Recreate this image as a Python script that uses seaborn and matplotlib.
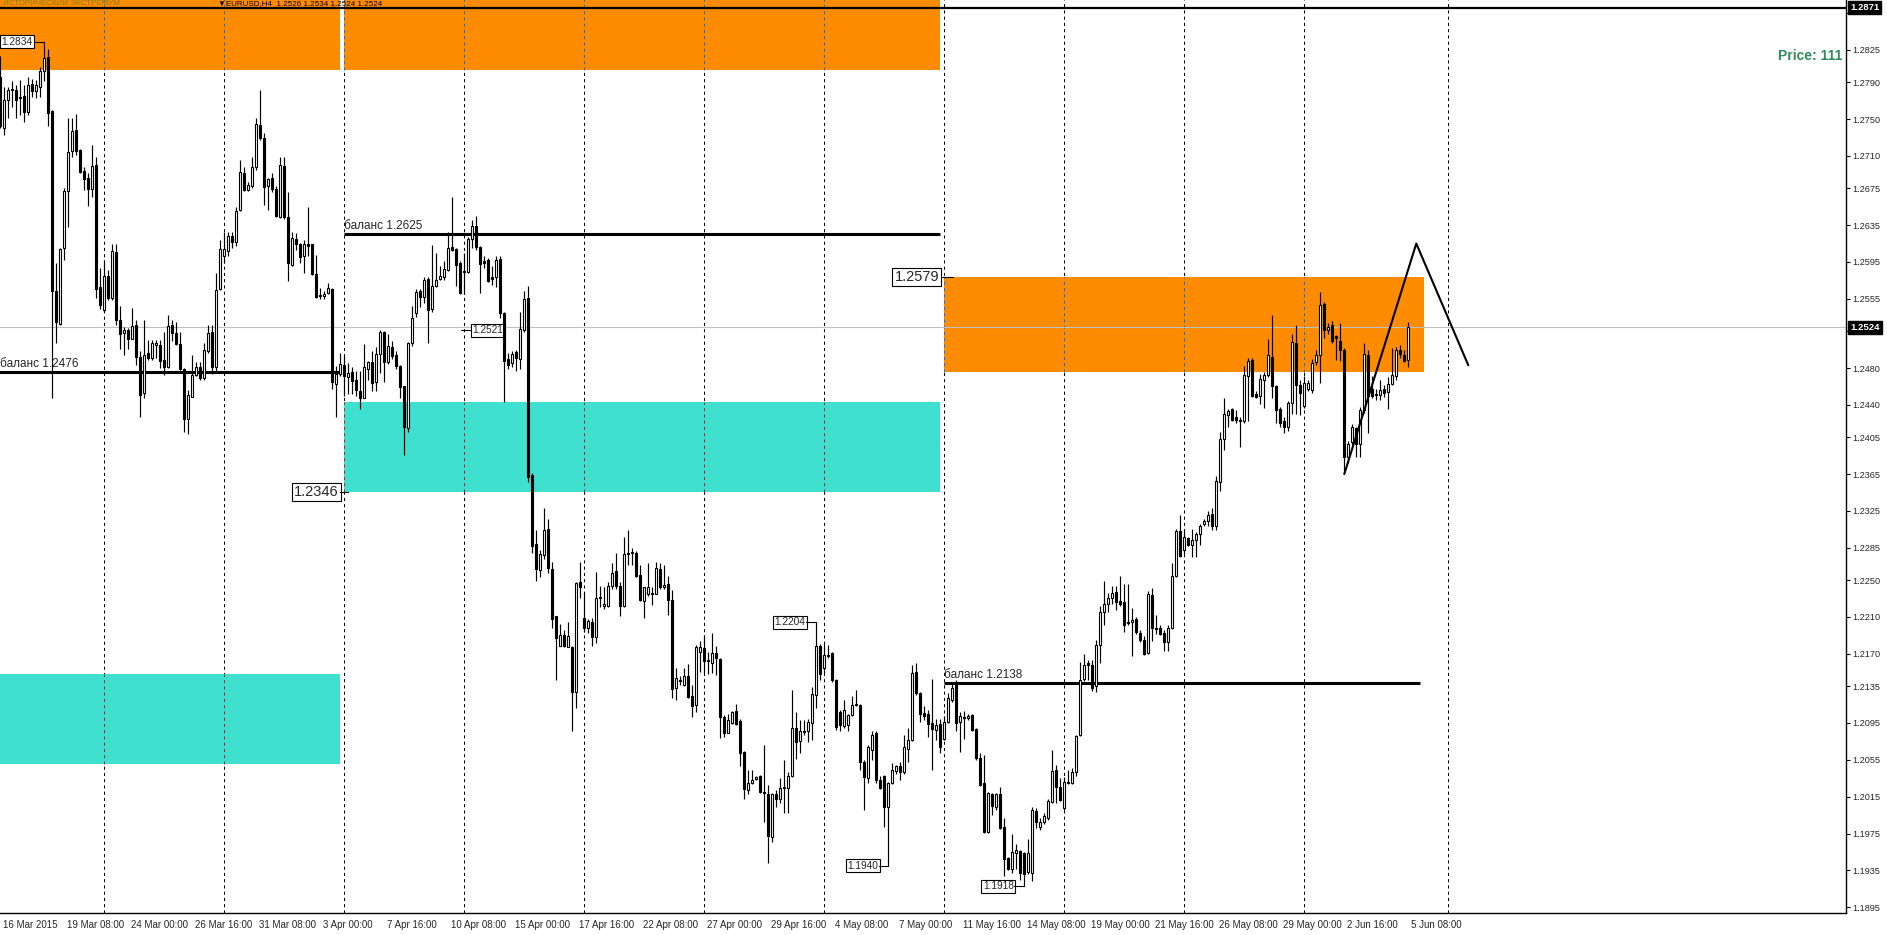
import matplotlib
matplotlib.use("Agg")
import matplotlib.pyplot as plt
import matplotlib.transforms as mtransforms
from matplotlib.patches import Rectangle
import seaborn as sns
import numpy as np

sns.set_style("white")
plt.rcParams['font.family'] = ['Liberation Sans', 'DejaVu Sans']

# EURUSD H4, one value per bar (bar 0 = 16 Mar 2015 16:00)
opens = [1.2796, 1.2740, 1.2771, 1.2782, 1.2782, 1.2774, 1.2775, 1.2758, 1.2788, 1.2780,
         1.2785, 1.2802, 1.2817, 1.2759, 1.2563, 1.2528, 1.2610, 1.2672, 1.2715, 1.2738,
         1.2717, 1.2694, 1.2686, 1.2674, 1.2700, 1.2568, 1.2543, 1.2580, 1.2556, 1.2606,
         1.2532, 1.2518, 1.2521, 1.2512, 1.2527, 1.2492, 1.2453, 1.2496, 1.2491, 1.2505,
         1.2505, 1.2489, 1.2481, 1.2527, 1.2518, 1.2506, 1.2479, 1.2425, 1.2449, 1.2472,
         1.2481, 1.2469, 1.2498, 1.2519, 1.2481, 1.2566, 1.2601, 1.2607, 1.2623, 1.2617,
         1.2651, 1.2691, 1.2673, 1.2677, 1.2698, 1.2744, 1.2730, 1.2677, 1.2686, 1.2674,
         1.2644, 1.2699, 1.2644, 1.2592, 1.2620, 1.2615, 1.2601, 1.2614, 1.2614, 1.2582,
         1.2559, 1.2558, 1.2561, 1.2566, 1.2463, 1.2474, 1.2483, 1.2470, 1.2476, 1.2467,
         1.2455, 1.2448, 1.2479, 1.2486, 1.2465, 1.2495, 1.2519, 1.2487, 1.2503, 1.2494,
         1.2482, 1.2460, 1.2415, 1.2507, 1.2540, 1.2563, 1.2557, 1.2577, 1.2544, 1.2569,
         1.2577, 1.2579, 1.2586, 1.2611, 1.2609, 1.2594, 1.2585, 1.2584, 1.2620, 1.2634,
         1.2611, 1.2596, 1.2597, 1.2579, 1.2579, 1.2598, 1.2540, 1.2490, 1.2485, 1.2497,
         1.2490, 1.2521, 1.2556, 1.2364, 1.2289, 1.2261, 1.2277, 1.2305, 1.2262, 1.2211,
         1.2178, 1.2190, 1.2177, 1.2177, 1.2128, 1.2248, 1.2209, 1.2198, 1.2204, 1.2188,
         1.2230, 1.2222, 1.2222, 1.2243, 1.2260, 1.2243, 1.2222, 1.2278, 1.2279, 1.2279,
         1.2255, 1.2227, 1.2235, 1.2236, 1.2235, 1.2262, 1.2242, 1.2246, 1.2228, 1.2133,
         1.2142, 1.2136, 1.2146, 1.2124, 1.2114, 1.2172, 1.2176, 1.2162, 1.2160, 1.2171,
         1.2164, 1.2101, 1.2084, 1.2095, 1.2108, 1.2097, 1.2063, 1.2022, 1.2030, 1.2034,
         1.2037, 1.2020, 1.2018, 1.1971, 1.2018, 1.2012, 1.2024, 1.2024, 1.2037, 1.2090,
         1.2075, 1.2085, 1.2086, 1.2095, 1.2125, 1.2178, 1.2155, 1.2168, 1.2171, 1.2142,
         1.2107, 1.2092, 1.2093, 1.2104, 1.2114, 1.2114, 1.2053, 1.2035, 1.2066, 1.2084,
         1.2033, 1.2037, 1.2004, 1.2030, 1.2043, 1.2048, 1.2042, 1.2067, 1.2076, 1.2150,
         1.2127, 1.2106, 1.2105, 1.2095, 1.2087, 1.2094, 1.2078, 1.2096, 1.2120, 1.2136,
         1.2096, 1.2101, 1.2100, 1.2104, 1.2088, 1.2057, 1.2030, 1.1977, 1.2018, 1.2004,
         1.2018, 1.1982, 1.1948, 1.1936, 1.1954, 1.1956, 1.1954, 1.1933, 1.1932, 1.1999,
         1.1982, 1.1988, 1.1992, 1.2009, 1.2044, 1.2026, 1.2003, 1.2031, 1.2030, 1.2042,
         1.2082, 1.2143, 1.2160, 1.2158, 1.2135, 1.2180, 1.2215, 1.2224, 1.2230, 1.2237,
         1.2227, 1.2226, 1.2204, 1.2204, 1.2208, 1.2193, 1.2185, 1.2171, 1.2234, 1.2198,
         1.2198, 1.2193, 1.2183, 1.2198, 1.2254, 1.2303, 1.2283, 1.2296, 1.2288, 1.2293,
         1.2300, 1.2311, 1.2314, 1.2322, 1.2309, 1.2356, 1.2403, 1.2429, 1.2435, 1.2427,
         1.2424, 1.2422, 1.2471, 1.2489, 1.2452, 1.2450, 1.2467, 1.2472, 1.2492, 1.2461,
         1.2435, 1.2423, 1.2416, 1.2442, 1.2507, 1.2462, 1.2439, 1.2457, 1.2456, 1.2486,
         1.2494, 1.2549, 1.2521, 1.2527, 1.2515, 1.2509, 1.2500, 1.2383, 1.2400, 1.2415,
         1.2398, 1.2434, 1.2494, 1.2457, 1.2452, 1.2451, 1.2457, 1.2454, 1.2463, 1.2471,
         1.2500, 1.2494, 1.2489]
highs = [1.2818, 1.2785, 1.2785, 1.2791, 1.2787, 1.2792, 1.2787, 1.2796, 1.2794, 1.2792,
         1.2807, 1.2834, 1.2826, 1.2760, 1.2594, 1.2610, 1.2675, 1.2751, 1.2751, 1.2756,
         1.2718, 1.2698, 1.2691, 1.2722, 1.2709, 1.2588, 1.2597, 1.2586, 1.2614, 1.2614,
         1.2547, 1.2525, 1.2523, 1.2545, 1.2532, 1.2498, 1.2532, 1.2510, 1.2510, 1.2510,
         1.2510, 1.2519, 1.2538, 1.2532, 1.2530, 1.2519, 1.2480, 1.2456, 1.2494, 1.2487,
         1.2487, 1.2507, 1.2527, 1.2527, 1.2583, 1.2619, 1.2628, 1.2628, 1.2628, 1.2655,
         1.2706, 1.2698, 1.2682, 1.2709, 1.2751, 1.2782, 1.2735, 1.2686, 1.2691, 1.2677,
         1.2709, 1.2709, 1.2671, 1.2628, 1.2626, 1.2616, 1.2619, 1.2655, 1.2615, 1.2603,
         1.2567, 1.2563, 1.2572, 1.2567, 1.2482, 1.2496, 1.2494, 1.2485, 1.2481, 1.2477,
         1.2477, 1.2506, 1.2488, 1.2498, 1.2503, 1.2521, 1.2520, 1.2517, 1.2509, 1.2498,
         1.2483, 1.2461, 1.2508, 1.2547, 1.2566, 1.2566, 1.2579, 1.2579, 1.2613, 1.2605,
         1.2591, 1.2596, 1.2627, 1.2665, 1.2610, 1.2596, 1.2605, 1.2622, 1.2641, 1.2645,
         1.2612, 1.2602, 1.2599, 1.2591, 1.2601, 1.2602, 1.2541, 1.2496, 1.2498, 1.2499,
         1.2541, 1.2564, 1.2569, 1.2366, 1.2304, 1.2283, 1.2328, 1.2316, 1.2270, 1.2211,
         1.2202, 1.2196, 1.2204, 1.2178, 1.2248, 1.2270, 1.2237, 1.2208, 1.2209, 1.2259,
         1.2243, 1.2242, 1.2248, 1.2268, 1.2279, 1.2248, 1.2297, 1.2304, 1.2285, 1.2281,
         1.2266, 1.2242, 1.2269, 1.2242, 1.2270, 1.2268, 1.2266, 1.2254, 1.2239, 1.2155,
         1.2146, 1.2155, 1.2159, 1.2136, 1.2180, 1.2184, 1.2190, 1.2172, 1.2192, 1.2178,
         1.2165, 1.2104, 1.2105, 1.2108, 1.2116, 1.2099, 1.2064, 1.2044, 1.2044, 1.2037,
         1.2039, 1.2071, 1.2028, 1.2019, 1.2022, 1.2035, 1.2055, 1.2042, 1.2131, 1.2107,
         1.2098, 1.2098, 1.2099, 1.2134, 1.2204, 1.2181, 1.2181, 1.2180, 1.2172, 1.2143,
         1.2109, 1.2120, 1.2105, 1.2124, 1.2131, 1.2116, 1.2055, 1.2071, 1.2086, 1.2086,
         1.2037, 1.2038, 1.2031, 1.2051, 1.2049, 1.2053, 1.2082, 1.2089, 1.2158, 1.2160,
         1.2129, 1.2113, 1.2109, 1.2143, 1.2099, 1.2099, 1.2102, 1.2127, 1.2138, 1.2142,
         1.2107, 1.2108, 1.2105, 1.2105, 1.2089, 1.2062, 1.2060, 1.2020, 1.2019, 1.2019,
         1.2026, 1.1992, 1.1950, 1.1975, 1.1964, 1.1957, 1.1955, 1.1969, 1.2004, 1.2003,
         1.1992, 1.1997, 1.2012, 1.2066, 1.2049, 1.2035, 1.2036, 1.2044, 1.2046, 1.2082,
         1.2161, 1.2170, 1.2163, 1.2163, 1.2185, 1.2222, 1.2249, 1.2236, 1.2243, 1.2243,
         1.2254, 1.2246, 1.2246, 1.2220, 1.2210, 1.2196, 1.2189, 1.2238, 1.2241, 1.2212,
         1.2201, 1.2196, 1.2201, 1.2269, 1.2305, 1.2321, 1.2305, 1.2297, 1.2305, 1.2302,
         1.2311, 1.2316, 1.2325, 1.2328, 1.2363, 1.2411, 1.2447, 1.2436, 1.2437, 1.2434,
         1.2427, 1.2482, 1.2491, 1.2491, 1.2455, 1.2474, 1.2476, 1.2511, 1.2537, 1.2462,
         1.2438, 1.2427, 1.2444, 1.2517, 1.2527, 1.2467, 1.2471, 1.2467, 1.2490, 1.2500,
         1.2562, 1.2552, 1.2529, 1.2531, 1.2516, 1.2529, 1.2502, 1.2401, 1.2419, 1.2416,
         1.2438, 1.2507, 1.2500, 1.2471, 1.2457, 1.2467, 1.2462, 1.2470, 1.2502, 1.2503,
         1.2505, 1.2500, 1.2530]
lows = [1.2740, 1.2733, 1.2751, 1.2763, 1.2751, 1.2754, 1.2747, 1.2754, 1.2774, 1.2773,
        1.2774, 1.2791, 1.2742, 1.2448, 1.2507, 1.2527, 1.2597, 1.2633, 1.2709, 1.2711,
        1.2691, 1.2673, 1.2656, 1.2666, 1.2556, 1.2544, 1.2541, 1.2554, 1.2554, 1.2527,
        1.2501, 1.2494, 1.2501, 1.2511, 1.2483, 1.2427, 1.2447, 1.2489, 1.2489, 1.2491,
        1.2480, 1.2472, 1.2480, 1.2509, 1.2505, 1.2478, 1.2411, 1.2408, 1.2449, 1.2471,
        1.2467, 1.2467, 1.2496, 1.2474, 1.2476, 1.2565, 1.2594, 1.2601, 1.2610, 1.2612,
        1.2650, 1.2672, 1.2672, 1.2675, 1.2695, 1.2727, 1.2657, 1.2651, 1.2671, 1.2644,
        1.2643, 1.2642, 1.2574, 1.2591, 1.2608, 1.2594, 1.2583, 1.2601, 1.2581, 1.2556,
        1.2555, 1.2555, 1.2560, 1.2457, 1.2427, 1.2471, 1.2450, 1.2452, 1.2452, 1.2450,
        1.2436, 1.2447, 1.2467, 1.2455, 1.2455, 1.2475, 1.2465, 1.2484, 1.2490, 1.2479,
        1.2448, 1.2386, 1.2411, 1.2504, 1.2535, 1.2546, 1.2550, 1.2507, 1.2541, 1.2568,
        1.2575, 1.2576, 1.2585, 1.2607, 1.2569, 1.2560, 1.2560, 1.2583, 1.2610, 1.2608,
        1.2561, 1.2589, 1.2573, 1.2570, 1.2568, 1.2534, 1.2443, 1.2479, 1.2481, 1.2477,
        1.2479, 1.2519, 1.2356, 1.2279, 1.2249, 1.2253, 1.2273, 1.2258, 1.2198, 1.2142,
        1.2178, 1.2177, 1.2177, 1.2086, 1.2111, 1.2231, 1.2194, 1.2192, 1.2178, 1.2182,
        1.2221, 1.2219, 1.2221, 1.2240, 1.2240, 1.2211, 1.2221, 1.2266, 1.2266, 1.2253,
        1.2227, 1.2209, 1.2233, 1.2223, 1.2235, 1.2240, 1.2240, 1.2212, 1.2122, 1.2120,
        1.2136, 1.2135, 1.2122, 1.2101, 1.2107, 1.2150, 1.2149, 1.2148, 1.2149, 1.2147,
        1.2079, 1.2080, 1.2084, 1.2094, 1.2093, 1.2048, 1.2013, 1.2018, 1.2029, 1.2033,
        1.2019, 1.1988, 1.1943, 1.1966, 1.2004, 1.2008, 1.1997, 1.1997, 1.2036, 1.2056,
        1.2062, 1.2082, 1.2074, 1.2077, 1.2111, 1.2142, 1.2149, 1.2165, 1.2139, 1.2087,
        1.2086, 1.2090, 1.2086, 1.2102, 1.2113, 1.2044, 1.2001, 1.2030, 1.2055, 1.2030,
        1.2023, 1.1982, 1.1940, 1.2029, 1.2040, 1.2033, 1.2040, 1.2053, 1.2075, 1.2125,
        1.2096, 1.2098, 1.2080, 1.2044, 1.2077, 1.2062, 1.2077, 1.2095, 1.2118, 1.2086,
        1.2063, 1.2078, 1.2098, 1.2086, 1.2055, 1.2027, 1.1976, 1.1976, 1.1995, 1.2001,
        1.1980, 1.1929, 1.1935, 1.1932, 1.1937, 1.1925, 1.1918, 1.1931, 1.1924, 1.1981,
        1.1979, 1.1985, 1.1990, 1.2008, 1.2008, 1.2010, 1.2001, 1.2029, 1.2029, 1.2037,
        1.2081, 1.2140, 1.2142, 1.2130, 1.2128, 1.2160, 1.2201, 1.2215, 1.2224, 1.2217,
        1.2222, 1.2194, 1.2201, 1.2168, 1.2191, 1.2183, 1.2169, 1.2170, 1.2184, 1.2191,
        1.2190, 1.2173, 1.2173, 1.2197, 1.2253, 1.2275, 1.2278, 1.2287, 1.2275, 1.2275,
        1.2288, 1.2309, 1.2309, 1.2304, 1.2304, 1.2347, 1.2391, 1.2416, 1.2422, 1.2420,
        1.2394, 1.2420, 1.2423, 1.2449, 1.2447, 1.2441, 1.2437, 1.2470, 1.2448, 1.2420,
        1.2416, 1.2410, 1.2412, 1.2430, 1.2430, 1.2429, 1.2437, 1.2455, 1.2453, 1.2483,
        1.2464, 1.2513, 1.2517, 1.2507, 1.2489, 1.2488, 1.2365, 1.2377, 1.2396, 1.2384,
        1.2384, 1.2431, 1.2410, 1.2448, 1.2445, 1.2445, 1.2449, 1.2435, 1.2462, 1.2467,
        1.2491, 1.2486, 1.2481]
closes = [1.2742, 1.2771, 1.2782, 1.2783, 1.2771, 1.2773, 1.2758, 1.2787, 1.2781, 1.2787,
          1.2802, 1.2816, 1.2757, 1.2564, 1.2530, 1.2609, 1.2672, 1.2714, 1.2737, 1.2715,
          1.2693, 1.2685, 1.2674, 1.2699, 1.2566, 1.2548, 1.2580, 1.2556, 1.2607, 1.2532,
          1.2517, 1.2521, 1.2511, 1.2526, 1.2492, 1.2451, 1.2494, 1.2491, 1.2507, 1.2507,
          1.2488, 1.2481, 1.2526, 1.2518, 1.2506, 1.2479, 1.2425, 1.2451, 1.2472, 1.2481,
          1.2469, 1.2499, 1.2518, 1.2481, 1.2565, 1.2609, 1.2609, 1.2623, 1.2617, 1.2650,
          1.2693, 1.2673, 1.2679, 1.2698, 1.2745, 1.2729, 1.2676, 1.2685, 1.2674, 1.2645,
          1.2700, 1.2644, 1.2594, 1.2621, 1.2614, 1.2600, 1.2614, 1.2612, 1.2582, 1.2557,
          1.2558, 1.2560, 1.2567, 1.2465, 1.2474, 1.2484, 1.2471, 1.2475, 1.2466, 1.2456,
          1.2448, 1.2481, 1.2486, 1.2464, 1.2495, 1.2519, 1.2486, 1.2504, 1.2493, 1.2482,
          1.2459, 1.2416, 1.2507, 1.2534, 1.2562, 1.2557, 1.2576, 1.2543, 1.2569, 1.2576,
          1.2580, 1.2587, 1.2610, 1.2608, 1.2592, 1.2561, 1.2584, 1.2620, 1.2634, 1.2611,
          1.2593, 1.2594, 1.2574, 1.2577, 1.2597, 1.2540, 1.2488, 1.2483, 1.2495, 1.2491,
          1.2522, 1.2555, 1.2362, 1.2287, 1.2262, 1.2278, 1.2304, 1.2263, 1.2208, 1.2187,
          1.2190, 1.2178, 1.2189, 1.2129, 1.2247, 1.2242, 1.2198, 1.2206, 1.2188, 1.2231,
          1.2232, 1.2224, 1.2243, 1.2258, 1.2243, 1.2222, 1.2278, 1.2279, 1.2280, 1.2254,
          1.2228, 1.2242, 1.2242, 1.2235, 1.2263, 1.2242, 1.2245, 1.2228, 1.2132, 1.2144,
          1.2141, 1.2146, 1.2123, 1.2113, 1.2177, 1.2177, 1.2162, 1.2163, 1.2171, 1.2165,
          1.2101, 1.2084, 1.2098, 1.2107, 1.2094, 1.2062, 1.2023, 1.2030, 1.2033, 1.2036,
          1.2020, 1.2019, 1.1972, 1.2018, 1.2012, 1.2024, 1.2026, 1.2037, 1.2089, 1.2074,
          1.2086, 1.2086, 1.2096, 1.2126, 1.2178, 1.2148, 1.2169, 1.2169, 1.2142, 1.2091,
          1.2093, 1.2109, 1.2104, 1.2114, 1.2116, 1.2053, 1.2036, 1.2069, 1.2082, 1.2033,
          1.2024, 1.2004, 1.2030, 1.2044, 1.2048, 1.2042, 1.2069, 1.2076, 1.2149, 1.2127,
          1.2105, 1.2103, 1.2094, 1.2088, 1.2093, 1.2069, 1.2096, 1.2122, 1.2133, 1.2095,
          1.2102, 1.2100, 1.2103, 1.2087, 1.2057, 1.2028, 1.1977, 1.2019, 1.2005, 1.2018,
          1.1981, 1.1947, 1.1937, 1.1955, 1.1957, 1.1932, 1.1931, 1.1954, 1.2001, 1.1988,
          1.1988, 1.1994, 1.2010, 1.2043, 1.2026, 1.2011, 1.2031, 1.2030, 1.2042, 1.2081,
          1.2142, 1.2158, 1.2158, 1.2133, 1.2180, 1.2215, 1.2224, 1.2230, 1.2236, 1.2226,
          1.2224, 1.2201, 1.2203, 1.2207, 1.2194, 1.2185, 1.2170, 1.2235, 1.2198, 1.2197,
          1.2191, 1.2183, 1.2198, 1.2254, 1.2303, 1.2276, 1.2297, 1.2288, 1.2293, 1.2300,
          1.2309, 1.2314, 1.2321, 1.2309, 1.2357, 1.2403, 1.2430, 1.2433, 1.2424, 1.2424,
          1.2422, 1.2472, 1.2488, 1.2450, 1.2449, 1.2468, 1.2472, 1.2494, 1.2460, 1.2434,
          1.2420, 1.2416, 1.2442, 1.2508, 1.2462, 1.2453, 1.2464, 1.2464, 1.2485, 1.2494,
          1.2548, 1.2521, 1.2525, 1.2509, 1.2513, 1.2500, 1.2384, 1.2398, 1.2416, 1.2398,
          1.2434, 1.2495, 1.2450, 1.2450, 1.2451, 1.2456, 1.2453, 1.2463, 1.2472, 1.2500,
          1.2495, 1.2488, 1.2524]

# x axis labels (bar index -> text)
date_bars = [0, 16, 32, 48, 64, 80, 96, 112, 128, 144, 160, 176, 192, 208, 224, 240,
             256, 272, 288, 304, 320, 336, 352]
date_labels = ["16 Mar 2015", "19 Mar 08:00", "24 Mar 00:00", "26 Mar 16:00", "31 Mar 08:00",
               "3 Apr 00:00", "7 Apr 16:00", "10 Apr 08:00", "15 Apr 00:00", "17 Apr 16:00",
               "22 Apr 08:00", "27 Apr 00:00", "29 Apr 16:00", "4 May 08:00", "7 May 00:00",
               "11 May 16:00", "14 May 08:00", "19 May 00:00", "21 May 16:00", "26 May 08:00",
               "29 May 00:00", "2 Jun 16:00", "5 Jun 08:00"]
price_ticks = [1.2865, 1.2825, 1.2790, 1.2750, 1.2710, 1.2675, 1.2635, 1.2595, 1.2555,
               1.2520, 1.2480, 1.2440, 1.2405, 1.2365, 1.2325, 1.2285, 1.2250, 1.2210,
               1.2170, 1.2135, 1.2095, 1.2055, 1.2015, 1.1975, 1.1935, 1.1895]
# ticks whose labels sit under the black price boxes
covered_ticks = [1.2865, 1.2520]
week_bars = [26, 56, 86, 116, 146, 176, 206, 236, 266, 296, 326, 362]

# zones: (start bar, end bar, low, high, colour)
zones = [(-1, 84.9, 1.2803, 1.2900, "#FF8C00"), (86, 234.9, 1.2803, 1.2900, "#FF8C00"),
         (236, 355.8, 1.2476, 1.2579, "#FF8C00"),
         (-1, 84.9, 1.2050, 1.2148, "#40E0D0"), (86, 234.9, 1.2346, 1.2443, "#40E0D0")]
balance_start = [-1, 86, 236]
balance_end = [84.9, 234.9, 355]
balance_level = [1.2476, 1.2625, 1.2138]
zigzag_bar = [336, 354, 367]
zigzag_price = [1.2365, 1.2615, 1.2483]
last_price = 1.2524
top_level = 1.2871

fig = plt.figure(figsize=(18.87, 9.35), dpi=100)
ax = fig.add_axes([0, 22 / 935, 1845.7 / 1887, 913 / 935])
ax.set_facecolor("white")
ax.set_xlim(-0.075, 461.35)
ax.set_ylim(1.18888, 1.28792)

# weekly separators (drawn in inverse colour where they cross a zone)
inverse = {"#FF8C00": "#0073FF", "#40E0D0": "#BF1F2F"}
for wb in week_bars:
    ax.axvline(wb, color="black", lw=0.75, linestyle=(0, (3, 3)), zorder=0.5)
for x0, x1, y0, y1, col in zones:
    ax.add_patch(Rectangle((x0, y0), x1 - x0, y1 - y0, facecolor=col, edgecolor="none", zorder=1))
    for wb in week_bars:
        if x0 <= wb <= x1:
            ax.vlines(wb, y0, y1, color=inverse[col], lw=0.75, linestyle=(0, (3, 3)), zorder=1.5)

ax.axhline(last_price, color="#C0C0C0", lw=0.8, zorder=2)

for xs, xe, lv in zip(balance_start, balance_end, balance_level):
    ax.hlines(lv, xs, xe, color="black", lw=2.2, zorder=3)
    ax.annotate("баланс {:.4f}".format(lv), (max(xs, -0.05), lv), xytext=(0, 1.5),
                textcoords="offset points", ha="left", va="bottom", fontsize=8.5, zorder=3)

# candles
o = np.array(opens)
h = np.array(highs)
l = np.array(lows)
c = np.array(closes)
x = np.arange(len(c))
up = c >= o
ax.vlines(x, l, h, color="black", lw=0.85, zorder=4)
bottom = np.minimum(o, c)
height = np.maximum(np.abs(c - o), 0.00004)
ax.bar(x[up], height[up], bottom=bottom[up], width=0.55, color="white",
       edgecolor="black", linewidth=0.8, zorder=5)
ax.bar(x[~up], height[~up], bottom=bottom[~up], width=0.55, color="black",
       edgecolor="black", linewidth=0.8, zorder=5)

sns.lineplot(x=zigzag_bar, y=zigzag_price, color="black", lw=1.5, sort=False, ax=ax, zorder=6)
ax.axhline(top_level, color="black", lw=1.6, zorder=6)

# boxed price labels
box = dict(facecolor="white", edgecolor="black", boxstyle="square,pad=0.15", lw=0.8)
ax.text(234.7, 1.2579, "1.2579", ha="right", va="center", fontsize=10.5, bbox=box, zorder=3)
ax.plot([235.4, 238.2], [1.2579, 1.2579], color="black", lw=0.8, zorder=3)
ax.text(84.6, 1.23455, "1.2346", ha="right", va="center", fontsize=10.5, bbox=box, zorder=3)
ax.plot([85.0, 87.0], [1.2346, 1.2346], color="black", lw=0.8, zorder=3)
ax.text(0.2, 1.2834, "1.2834", ha="left", va="center", fontsize=7.3, bbox=box, zorder=3)
ax.plot([8.6, 11], [1.2834, 1.2834], color="black", lw=0.8, zorder=3)
ax.text(118.0, 1.2521, "1.2521", ha="left", va="center", fontsize=7.3, bbox=box, zorder=3)
ax.plot([115.2, 117.7], [1.2521, 1.2521], color="black", lw=0.8, zorder=3)
ax.text(201.2, 1.2204, "1.2204", ha="right", va="center", fontsize=7.3, bbox=box, zorder=3)
ax.plot([201.5, 204], [1.2204, 1.2204], color="black", lw=0.8, zorder=3)
ax.text(219.5, 1.1940, "1.1940", ha="right", va="center", fontsize=7.3, bbox=box, zorder=3)
ax.plot([219.6, 222], [1.1940, 1.1940], color="black", lw=0.8, zorder=3)
ax.text(253.4, 1.1918, "1.1918", ha="right", va="center", fontsize=7.3, bbox=box, zorder=3)
ax.plot([253.5, 256], [1.1918, 1.1918], color="black", lw=0.8, zorder=3)

blend = mtransforms.blended_transform_factory(ax.transAxes, ax.transData)
ax.text(0.998, 1.2818, "Price: 111", transform=blend,
        ha="right", va="center", fontsize=10, fontweight="bold", color="#2E8B57", zorder=7)

# chart header (indicator name, then symbol line just below it)
ax.text(0.0015, 0.9995, "ИСТОРИЧЕСКИЙ ЭКСТРЕМУМ", transform=ax.transAxes, ha="left", va="top",
        fontsize=5.8, color="#808000", zorder=7)
ax.text(0.118, 0.9995, "▼EURUSD,H4  1.2526 1.2534 1.2524 1.2524", transform=ax.transAxes,
        ha="left", va="top", fontsize=5.8, color="black", zorder=7)

# axes styling, MT4 look
for side in ["top", "left"]:
    ax.spines[side].set_visible(False)
for side in ["right", "bottom"]:
    ax.spines[side].set_color("black")
    ax.spines[side].set_linewidth(1.0)
ax.yaxis.tick_right()
ax.set_yticks(price_ticks)
ax.set_yticklabels(["" if v in covered_ticks else "{:.4f}".format(v) for v in price_ticks])
ax.tick_params(axis="y", direction="out", length=3, pad=2, labelsize=6.6, color="black")
ax.set_xticks(date_bars)
ax.set_xticklabels(date_labels)
ax.tick_params(axis="x", direction="out", length=4, pad=1, labelsize=7, color="black")
offset = mtransforms.ScaledTranslation(2 / 72, 0, fig.dpi_scale_trans)
for lab in ax.get_xticklabels():
    lab.set_ha("left")
    lab.set_transform(lab.get_transform() + offset)
ax.grid(False)

for lv in [top_level, last_price]:
    ax.text(1.0025, lv, "{:.4f}".format(lv), transform=blend, ha="left", va="center",
            fontsize=6.8, color="white", fontweight="bold", clip_on=False, zorder=8,
            bbox=dict(facecolor="black", edgecolor="black", boxstyle="square,pad=0.2"))

fig.savefig("out.png", dpi=100, facecolor="white")
